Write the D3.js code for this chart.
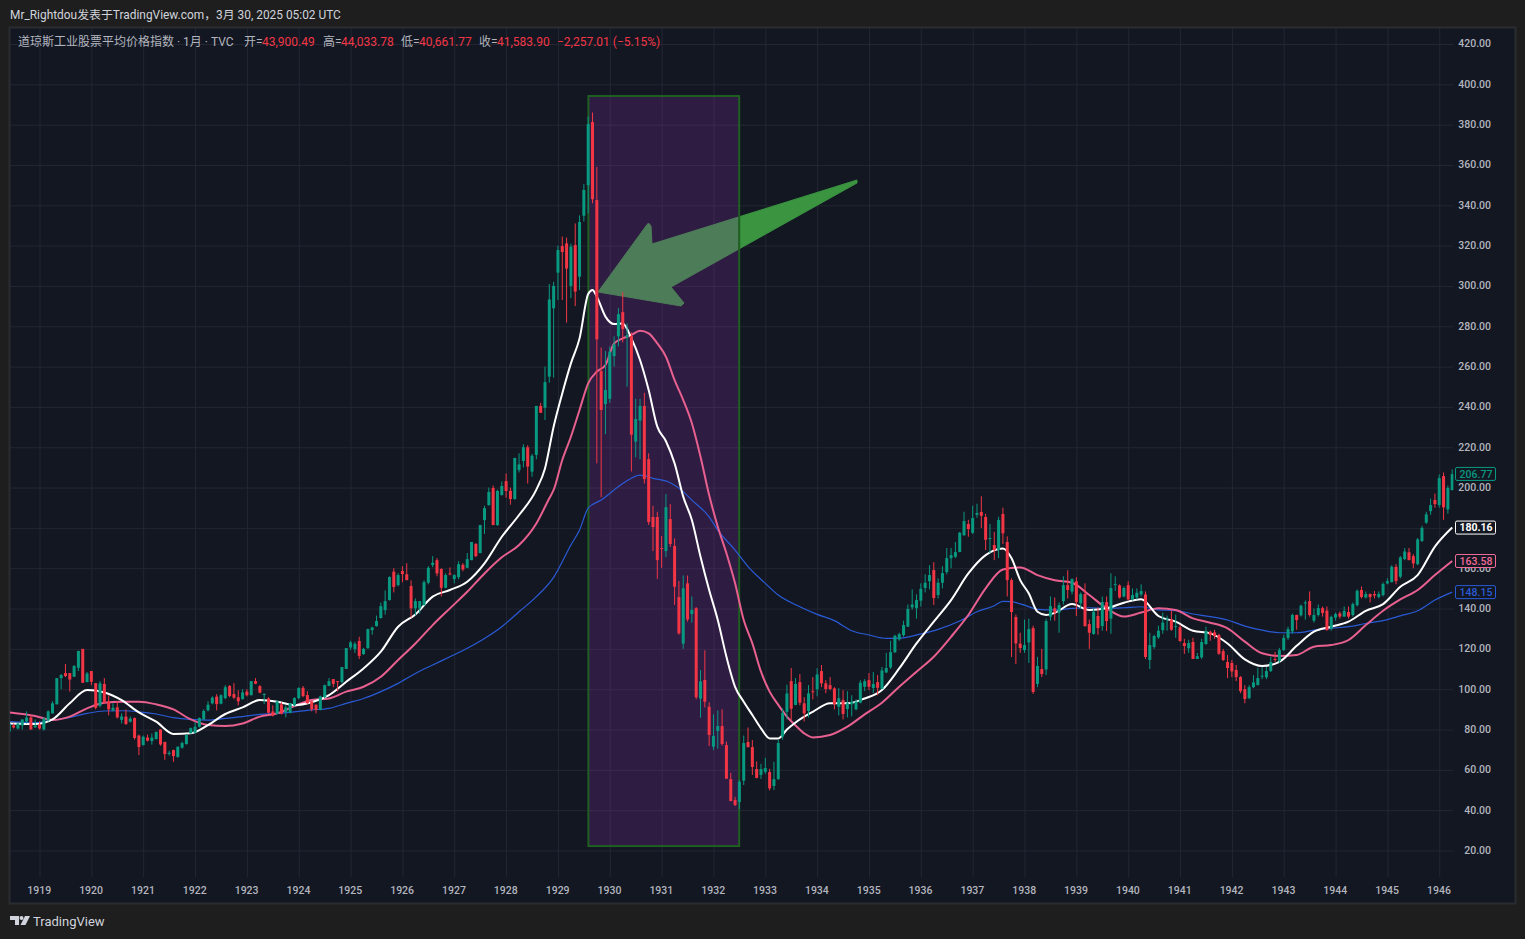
<!DOCTYPE html>
<html>
<head>
<meta charset="utf-8">
<script src="https://d3js.org/d3.v7.min.js"></script>
<style>
html, body { margin: 0; padding: 0; background: #1e1e1e; }
svg { display: block; }
text { font-family: Roboto, "Noto Sans CJK SC", sans-serif; }
</style>
</head>
<body>
<div id="chart"></div>
<script>
// monthly candles, month 0 = Jan 1919
const firstMonth = -7;

const opens = [
  79,82,80.5,82,84,86,81,
  82.5,80,84.5,88,92.5,105.5,108,108,106.2,110.6,120,103.5,
  109,103,91.8,102.6,94,89.5,91,84.8,86.4,83.9,85.7,77,
  72.3,76,74.3,75.3,80,73.8,67.9,69.8,66.4,71,72.8,78.1,
  78.4,81.4,85,89.5,93,96.3,92.8,95.6,101.6,97.6,96,95,
  98.8,97,104,101.5,97.2,95.4,89,87.8,92.5,88.7,88.3,92,
  95.6,100.7,97.1,94,92.3,89.7,96,101.6,105,104,103.5,110,
  120.7,119.9,123.9,117.4,120.4,129.3,131.3,135.3,139.2,144.2,158.3,151.6,
  158.6,157,151.2,140.1,140,141.7,152.8,161.6,164,159.6,150.3,157.4,
  154.6,155.6,161.7,160.2,164,172,167.5,183.9,191.3,199.8,181.4,196.3,
  203.2,198.4,194.3,208.7,213.2,220,207.9,216.2,240.5,239.6,255,288.9,
  306.6,319.8,321.1,300,320.3,304.6,334.8,350,381.3,342.6,257.8,241.4,
  244,265.2,275,287,274.5,275.2,222.8,233.2,240.5,214.1,185.4,185.4,
  170,168.5,184.4,171,145.7,122.6,152.5,137.3,140.2,95.3,104.6,91.3,
  71.5,79.3,81.7,72.3,55.4,45,44,54.6,73.8,71.3,60.4,57.5,
  59,58.9,52,55.4,76.5,88.8,104,92.2,103.5,93,89.2,99,
  100,109,102.9,102,100.4,91.3,94.6,90.2,92.5,90,93.3,101.2,
  104.5,100.6,103.5,100.2,108.3,110.8,118.3,124.7,126.8,131,140.6,140.2,
  143.9,150.2,153.6,159.1,146.7,152.8,158.1,165,165.7,168,176.4,181.9,
  177.6,186.5,187.9,185.4,174.6,171.5,169,186.9,173,154.1,135.8,122.6,
  119.4,123.2,130.3,102.6,110,109.8,136,140.1,138,143.7,151.6,148.4,
  153.5,142.6,147.2,132.3,127.4,136.3,131.3,143.2,135,151.8,151.5,146,
  151.6,144.5,145.5,147,147,114.5,120.9,125.7,129.3,134.7,134.5,131,
  130.7,122.9,120.3,123.4,115,115.8,122.4,128.5,128.2,126.9,118.9,113.5,
  113,109.5,106,100,95.6,101,102,106.5,105.9,109,115,114,
  119.4,125.4,128.7,136.8,136.6,142.6,143.7,134,136.8,140.2,139,130,
  135.5,137.6,136,138.3,136.8,141.7,149.2,145.5,147.2,147.2,145.7,146.7,
  152.5,153.1,160.7,155.8,164.5,167.9,166,162,173.5,182.6,188.3,193.8,
  191.3,205.7,189.2,198.8
];
const highs = [
  83,83,83.5,85,89,87,85,
  84,86,89.5,94,105.5,107.5,112.5,108,112,119,120,108.5,
  109,103,104,105.5,97,93,94,88,90,86.5,86,77.5,
  77,77.5,78,79,80,74,69.5,70,71.5,74,77.5,81,
  83.5,86,90,94,96.5,97.5,97.5,102,102,103,99.5,100,
  100,104,105.5,102,98,96,92,94.5,93.5,92,93,96,
  101,101.6,99,94,92.5,96.8,102.3,105.5,105,104,111,120.4,
  124,123.5,126,120.5,130,131,136.5,143,149,156,160,157.5,
  161,162.5,154,145,143.7,154,161,166,165,160,157.5,160.4,
  157,163.5,162.5,167.5,173,172.5,181.5,191,200,201,199,203,
  207,200,214.7,217,221.5,221,216.7,240.5,242,260,301,302,
  320,324.5,324,321,331,335,350.5,384,386,359,269.5,267.7,
  270,275,289,297,281.5,277,244,244,247,217,191,188,
  176,196.8,191.8,174.8,153.7,156.4,156.4,146,140.7,109.5,119.3,93.5,
  87.5,89.5,90,74,58.5,46.6,55,77,81,74.8,64.2,63,
  66,60.5,64,75,90.5,102.3,110.5,105.5,107.5,96,102,106,
  110.4,112,104.5,106,101,100.5,99.5,99,97,95,104.5,105,
  108,108.5,107,111,118,124,127,128,134,142,149.5,147,
  152.5,157,161.5,163,155,161,170,170,173,178,188,184,
  191,192,195.7,187,182,178,185.5,190,175.8,155,137,128,
  134.5,135,131.5,116,120,135,146,145.5,143,156,159,155,
  155.5,148,152.5,134.5,140,140.5,146,146,157.5,156,152,151,
  153.5,150,150,152,148.5,128,127,131.5,138,136.5,139,137,
  132,125,124.5,125.5,118,125,131,129,129.5,127.5,120,117,
  114.5,112,106.5,102,102,107,110.5,111,111,116,118.5,120.5,
  127,131,137.5,137,142,144,148.5,140,142,141,141,136.5,
  138,138.5,141,141,143,149.5,151,148.5,147.5,148.7,148.5,153,
  155,161.5,162,166,170,170,167,175,181,188,194.5,197,
  206.5,207.5,201,209
];
const lows = [
  78,80.5,80,80,83,80,81,
  80,79.5,84,88,92.5,100,106,98.8,106,109,103,103.5,
  102,90,91,93,87,89,85.5,83,82.3,83.5,75,67.3,
  72,74,72.5,75,72,65,67,64,66,70.5,72.5,78,
  78,81,85,89,92.5,89.5,92.5,95,96,95,92,95,
  96.5,97,102.5,98,92.6,88,86.5,87.5,87.5,86,88,91.5,
  95,96,92.8,89,88,89.5,95.5,101.5,101,98.9,103,110,
  119.5,118,115,117,120,127,131,135,137,144,148,151,
  153,154,135.5,136.5,137.5,141.5,152,160.5,156,146,150,156.5,
  152.5,154.5,158.5,160,164,165.5,167.5,177,191,181.4,181,196,
  195,191.5,194,207.5,210,202,205.4,214,237,233.5,252,254.5,
  293,293,281.8,294,290,298,332,336,341,212,195.2,226.5,
  242,260,270,272,250,208,215,214,202,181.5,168.5,154.7,
  160.2,165.5,170.6,141.8,127,120,133.5,133,95,85.9,91,71.8,
  69.8,70.5,72,55.5,44.5,42,40.5,52.5,71,57.5,55.8,55.5,
  58,49.8,50,55,75,85,84.7,92,92,84,86,95,
  96.5,101,98,99.5,90,87,85,86,86.5,89.5,93,99,
  99.5,98,97,100,108,110,118,124,126,131,139.5,135,
  141,148,149.5,141.8,145,150,157,160,165,168,176,175.6,
  177,185,180,169,167.5,164,165,172,146,116,112.5,118,
  118,113,97.7,101,106,107,134,134,128,142,145,147,
  136.3,140,131,120,127,127,129,128.8,127.5,148.7,145,145.5,
  144,144,144.5,146,115,110,120,125,127.5,129,129,125.5,
  123.5,117.5,118,115,115,115,122,124,125,117,114,105.5,
  106,104,98,93,95,100.5,102,105,105,108.5,113.5,113,
  119,124.5,127.5,129.5,136,134.5,136,133,136,136,129,129,
  134,135,136,135,136,141,145,145,143,145,145,146,
  152,153,152,155,164,164,160,161.5,173,182,186.5,190,
  190,184,187,198.5
];
const closes = [
  83,81,83,85,86,80,82,
  80.5,85.5,89,93,105.5,107,106.5,104.8,111.5,119,103.2,107.8,
  103.7,90.8,102.9,93.3,90,90.8,86,86.5,82.7,85.4,75.8,71.3,
  76.4,74.5,76,78.8,72.6,67.8,68.5,66.8,71.5,73.3,77.4,80.7,
  81.4,85.7,89.2,92.3,95.8,92.6,97,101,96.6,95.8,94,98.4,
  97,104,102.7,98.3,97.6,88.3,86.9,94,87.8,91,93,95.6,
  100.6,96.6,93,90,89.7,96.4,102,104,102.6,103.8,111,120.4,
  123.2,122.5,116.5,120,129.8,130.6,133.8,141.2,143.7,155.6,150.7,156.6,
  157.1,154.1,140.1,143.7,143.7,153.1,160.2,162.7,157.4,150.3,156.6,157,
  156.6,162,159.4,164.5,173,166,181.4,189.8,197.8,181.4,198.3,200.8,
  198.3,194.3,214.7,211.5,220,210.4,215.8,240.5,237.1,252.3,293.3,300,
  317.8,316.8,308.6,319.5,297.2,331.7,347.6,380.3,343,273.5,238.5,248.4,
  267.4,271,286,278.6,275.5,226.2,234,240.5,204.2,182.9,180.4,164,
  169.6,190.3,172,150.8,127.7,150,134.6,139.3,96,103.9,93.8,77.3,
  76.8,81.7,72.8,55.6,44.5,42.6,54.1,73.3,71.3,61.4,56,60.4,
  60.9,50.8,55.4,73.3,88.3,97.9,90.3,102.6,93.3,88,97.9,98.8,
  107.3,102.9,100.1,100.1,92.5,95.5,87.7,93,93.8,93.8,103.2,104,
  101.2,102.6,100.7,109.3,110.5,118.4,126.5,127.3,131.8,139.8,142,144.2,
  149.8,152.8,156.6,145.2,152.8,157.6,165,166.5,168,177.6,183.4,179.4,
  184.9,187.4,186,174.1,175,169,183.9,177.3,154.1,138.3,122.7,120.4,
  121.9,129.8,98.6,111.5,107.5,133.8,141.2,138,141.7,151.6,149.2,154.6,
  143.2,147.2,131.3,128,138.4,130.3,143.2,133.8,150.2,152.1,145.5,150.2,
  144.5,146.7,147.8,148.7,116,121.9,126.4,129,133,135,129.5,131.3,
  123.9,121.4,122.9,115,116.4,123.4,128.8,126.9,126.4,117.6,114.5,110.5,
  108.8,106,99,95.1,101,103.4,105.5,106.7,109,113.5,114.5,119.4,
  125.4,129.8,136.8,134.3,141.4,143,136.8,136.8,140.2,137.8,129.3,135.9,
  137.3,136,138.8,136,142.2,148.8,145.7,147.2,145.7,146.5,147.2,152.2,
  153.6,160.7,153.6,165.4,168.3,164,162.4,174.3,180,186.7,191.3,191.8,
  204.7,190.2,199.8,206.7
];

const whiteMonths = [-7,-1,3,7,11,15,19,23,27,31,35,39,43,47,51,55,59,63,67,71,75,79,83,87,91,95,99,103,107,111,115,117,119,121,123,125,127,128,129,131,133,135,137,139,141,143,145,147,149,151,153,155,157,159,161,163,165,167,169,171,173,175,179,183,187,191,195,199,203,207,211,215,219,223,225,227,229,231,233,235,239,243,247,251,255,259,263,267,271,275,279,283,287,291,295,299,303,307,311,315,319,323,327];
const whiteValues = [83,82.7,85,93,99.6,98.4,94.6,88.5,83.9,77.8,78.1,82.2,87.7,91,94.6,93.8,92.1,93.5,97.1,103.7,110.3,118.6,131,137.1,145.9,149.2,153.3,162.4,175.6,186.4,199,209.5,230.2,246.7,261.6,274,296,298,294.7,284.8,281.1,281.4,274,263.3,248.4,230.2,223,212,195.5,183.9,165.7,149.2,134.3,116.1,101.2,93.8,87.2,80.6,75.6,75.6,80,83.5,88.8,93,93,95.4,99.6,110.3,122.7,133.5,144.2,157.4,166.5,169.8,164.9,154.1,147.5,138.4,136.8,137.9,142.2,139.3,140.1,142.9,144.6,136.3,133.5,129,127.7,122.7,114.8,111.5,113.6,121.5,128.5,131,133.5,138.9,142.2,150.8,156.6,170.7,180.16];

const pinkMonths = [-7,-1,3,7,11,15,19,23,27,31,35,39,43,47,51,55,59,63,67,71,75,79,83,87,91,95,99,103,107,111,115,118,119,121,123,125,127,129,131,133,135,137,139,141,143,145,147,149,151,153,155,157,159,161,163,165,167,169,171,173,175,177,179,183,187,191,195,199,203,207,211,215,219,223,227,231,235,239,243,247,251,255,259,263,267,271,275,279,283,287,291,295,299,303,307,311,315,319,323,327];
const pinkValues = [88.5,86.7,84.7,86.4,90.5,93.3,93.8,93.8,92.5,90,85,82.2,81.7,83,86.4,88,91.6,94.6,95.4,98.8,101.2,106.2,114.5,122.7,131.8,140.1,148.3,157.4,165.4,171.5,182.2,194.7,198.8,213.7,225.2,238.5,251.7,257.5,260.8,271.5,274,275.7,277.8,276.5,271.5,264.9,253.3,243.4,231.9,215.3,196.3,180.6,167.4,152.5,134.3,122.7,108.7,98.8,92.2,86.4,82,78.1,76.1,77.3,81.4,87.5,93.3,101.2,108.7,116.1,126,136.8,150,159.4,160.4,156.6,154,152.8,146.7,140.1,136,138,140.1,139.3,135.1,133,130.2,123.6,117.8,116.5,117,121.1,121.9,124.4,131.8,138.9,144.5,149.2,156.6,163.58];

const blueMonths = [-7,-1,3,7,11,15,19,23,27,31,35,39,43,47,51,55,59,63,67,71,75,79,83,87,91,95,99,103,107,111,115,119,123,125,127,130,135,139,142,146,149,151,155,157,161,164,168,171,176,180,184,188,192,196,200,204,208,213,217,221,223,225,228,231,235,239,243,247,251,255,259,263,267,271,275,279,283,287,291,295,299,303,307,311,315,319,323,327];
const blueValues = [83.9,83.4,84.7,86,88,89.2,89.3,88.8,87.7,85.9,85,84.7,85.5,86.4,87.5,88,88.8,89.7,90.5,93,95.4,98.8,102.9,107.8,112,116.1,120.3,125.2,131,138.4,145.9,155.5,171.5,179,189.8,193.8,202,206.2,204.6,202.4,198,193.8,185.5,178.9,169,160.8,152.5,146.7,140.9,137.1,134,129,126.9,125.2,125.5,127.4,129.7,133.8,138.4,141.4,143.6,143.4,141.7,139.6,139.3,140.1,140.4,140.1,140.4,140.9,139.3,139,137.3,136,134.3,131.3,129.3,128,128,129.3,130.2,131,132.6,134,136.4,138.9,144.2,148.15];

const years = [1919,1920,1921,1922,1923,1924,1925,1926,1927,1928,1929,1930,1931,1932,1933,1934,1935,1936,1937,1938,1939,1940,1941,1942,1943,1944,1945,1946];
const priceTicks = [20,40,60,80,100,120,140,160,180,200,220,240,260,280,300,320,340,360,380,400,420];

const lastLabels = [
  {value: 206.77, color: "#089981", bold: false},
  {value: 180.16, color: "#ffffff", bold: true},
  {value: 163.58, color: "#ee6a97", bold: false},
  {value: 148.15, color: "#2a5bd7", bold: false}
];

const W = 1525, H = 939;
const svg = d3.select("#chart").append("svg").attr("width", W).attr("height", H);

const candles = opens.map((o, i) => ({
  month: firstMonth + i, open: o, high: highs[i], low: lows[i], close: closes[i]
}));

const x = d3.scaleLinear().domain([-7, 327]).range([9.3, 1452.2]);
const y = d3.scaleLinear().domain([20, 420]).range([850.5, 44]);
const yearMonth = yr => (yr - 1919) * 12;

// panel
svg.append("rect").attr("width", W).attr("height", H).attr("fill", "#1e1e1e");
svg.append("rect").attr("x", 9.5).attr("y", 27.5).attr("width", 1506).attr("height", 876)
  .attr("fill", "#131722").attr("stroke", "#2b2c30").attr("stroke-width", 2);

const clipId = "plotClip";
svg.append("clipPath").attr("id", clipId).append("rect")
  .attr("x", 10).attr("y", 28).attr("width", 1443.5).attr("height", 849);

// grid, from the axes' own ticks
const gridX = svg.append("g").attr("transform", "translate(0,877)")
  .call(d3.axisBottom(x).tickValues(years.map(yearMonth)).tickSize(-849).tickFormat(""));
gridX.select(".domain").remove();
gridX.selectAll("line").attr("stroke", "#232733");

const gridY = svg.append("g").attr("transform", "translate(1453,0)")
  .call(d3.axisLeft(y).tickValues(priceTicks).tickSize(1443).tickFormat(""));
gridY.select(".domain").remove();
gridY.selectAll("line").attr("stroke", "#232733");

const plot = svg.append("g").attr("clip-path", "url(#" + clipId + ")");

// arrow sits under the box, so the box tints it
const arrowPts = [[598,292],[646,226],[648.5,223],[651,226],[652,244],[857,180],[857,183],[671,287],[684,303],[681,306]];
plot.append("polygon").attr("points", arrowPts.join(" "))
  .attr("fill", "#3a9440").attr("stroke", "#3a9440").attr("stroke-width", 1).attr("stroke-linejoin", "round");

const boxX0 = x(127.05), boxX1 = x(161.95), boxY0 = y(394.2), boxY1 = y(22.2);
plot.append("rect")
  .attr("x", boxX0).attr("y", boxY0)
  .attr("width", boxX1 - boxX0).attr("height", boxY1 - boxY0)
  .attr("fill", "rgb(141,49,173)").attr("fill-opacity", 0.23)
  .attr("stroke", "#1f5f22").attr("stroke-width", 2);

// moving averages
function maLine(months, values, color, width) {
  const line = d3.line()
    .x(d => x(d[0])).y(d => y(d[1]))
    .curve(d3.curveMonotoneX);
  plot.append("path")
    .datum(months.map((m, i) => [m, values[i]]))
    .attr("d", line)
    .attr("fill", "none")
    .attr("stroke", color)
    .attr("stroke-width", width)
    .attr("stroke-linejoin", "round");
}
maLine(blueMonths, blueValues, "#2a5bd7", 1.2);
maLine(pinkMonths, pinkValues, "#e8608f", 2);
maLine(whiteMonths, whiteValues, "#ffffff", 2);

// candles
const upColor = "#089981", downColor = "#f23645";
const candleG = plot.selectAll("g.candle").data(candles).enter().append("g").attr("class", "candle");
candleG.append("line")
  .attr("x1", d => x(d.month)).attr("x2", d => x(d.month))
  .attr("y1", d => y(d.high)).attr("y2", d => y(d.low))
  .attr("stroke", d => d.close >= d.open ? upColor : downColor)
  .attr("stroke-width", 1);
candleG.append("rect")
  .attr("x", d => x(d.month) - 1.5)
  .attr("width", 3)
  .attr("y", d => y(Math.max(d.open, d.close)))
  .attr("height", d => Math.max(1, Math.abs(y(d.open) - y(d.close))))
  .attr("fill", d => d.close >= d.open ? upColor : downColor);

// axis labels
const axisX = svg.append("g").attr("transform", "translate(-0.8,877)")
  .call(d3.axisBottom(x).tickValues(years.map(yearMonth)).tickSize(0).tickPadding(10).tickFormat(d => 1919 + d / 12));
axisX.select(".domain").remove();
axisX.selectAll("text")
  .attr("fill", "#b2b5be").attr("font-size", 10.5).attr("font-weight", 500)
  .style("font-family", "Roboto, sans-serif");

const axisY = svg.append("g").attr("transform", "translate(1491,-0.5)")
  .call(d3.axisLeft(y).tickValues(priceTicks).tickSize(0).tickPadding(0).tickFormat(d3.format(".2f")));
axisY.select(".domain").remove();
axisY.selectAll("text")
  .attr("fill", "#b2b5be").attr("font-size", 10.5).attr("font-weight", 500)
  .style("font-family", "Roboto, sans-serif");

// last value tags
const tags = svg.selectAll("g.tag").data(lastLabels).enter().append("g").attr("class", "tag")
  .attr("transform", d => "translate(0," + y(d.value) + ")");
tags.append("rect")
  .attr("x", 1455.5).attr("y", -6.5).attr("width", 40).attr("height", 13).attr("rx", 1.5)
  .attr("fill", "#131722").attr("stroke", d => d.color).attr("stroke-width", 1);
tags.append("text")
  .attr("x", 1476).attr("y", 0).attr("dy", "0.36em").attr("text-anchor", "middle")
  .attr("font-size", 10.5).attr("font-weight", d => d.bold ? 700 : 500)
  .attr("fill", d => d.color).text(d => d.value.toFixed(2));

// header
svg.append("text").attr("x", 10).attr("y", 18.5).attr("font-size", 11.9)
  .attr("fill", "#d1d4dc").text("Mr_Rightdou发表于TradingView.com，3月 30, 2025 05:02 UTC");

const legendParts = [
  ["道琼斯工业股票平均价格指数 · 1月 · TVC", "#b2b5be", 18],
  ["开=", "#b2b5be", 244], ["43,900.49", "#f23645", 262],
  ["高=", "#b2b5be", 323], ["44,033.78", "#f23645", 341],
  ["低=", "#b2b5be", 401], ["40,661.77", "#f23645", 419],
  ["收=", "#b2b5be", 479], ["41,583.90", "#f23645", 497],
  ["−2,257.01 (−5.15%)", "#f23645", 557]
];
svg.selectAll("text.legend").data(legendParts).enter().append("text").attr("class", "legend")
  .attr("x", d => d[2]).attr("y", 45.5).attr("font-size", 12)
  .attr("fill", d => d[1]).text(d => d[0]);

// footer logo
const logo = svg.append("g").attr("transform", "translate(10,916)").attr("fill", "#d1d4dc");
logo.append("path").attr("d", "M0 0h9v9h-4v-5h-5z");
logo.append("circle").attr("cx", 11.5).attr("cy", 2).attr("r", 2);
logo.append("path").attr("d", "M15 0h5l-4.5 9h-5z");
svg.append("text").attr("x", 33).attr("y", 926).attr("font-size", 13).attr("fill", "#d1d4dc").text("TradingView");
</script>
</body>
</html>
